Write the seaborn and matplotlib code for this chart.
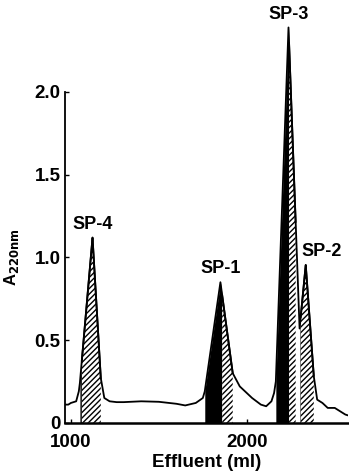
import numpy as np
import pandas as pd
import matplotlib
matplotlib.use('Agg')
import matplotlib.pyplot as plt
import seaborn as sns

# elution profile (ml, A220)
effluent = [966, 985, 1000, 1030, 1045, 1051, 1123, 1170, 1190, 1220, 1260, 1300,
            1400, 1500, 1600, 1650, 1710, 1750, 1761, 1850, 1920, 1960, 2030, 2080,
            2110, 2140, 2155, 2165, 2237, 2300, 2335, 2381, 2400, 2430, 2460, 2500,
            2530, 2560, 2575]
absorbance = [0.11, 0.11, 0.12, 0.13, 0.19, 0.24, 1.12, 0.27, 0.15, 0.13, 0.125, 0.125,
              0.13, 0.127, 0.115, 0.105, 0.12, 0.15, 0.19, 0.85, 0.30, 0.22, 0.15, 0.11,
              0.10, 0.13, 0.18, 0.25, 2.39, 0.57, 0.955, 0.28, 0.14, 0.12, 0.09, 0.09,
              0.07, 0.05, 0.045]

peak_names = ['SP-4', 'SP-1', 'SP-3', 'SP-2']
peak_top = [1123, 1850, 2237, 2335]
peak_height = [1.12, 0.85, 2.39, 0.955]
# pooled fractions: start, end of solid part, end
pool_start = [1051, 1761, 2165, 2301]
pool_dark_end = [1062, 1860, 2240, 2306]
pool_end = [1170, 1920, 2278, 2381]

df = pd.DataFrame({'Effluent': effluent, 'A220': absorbance})

plt.rcParams['font.family'] = ['Liberation Sans', 'DejaVu Sans']
plt.rcParams['font.weight'] = 'bold'
plt.rcParams['hatch.linewidth'] = 1.0

fig = plt.figure(figsize=(3.49, 4.74), dpi=100)
ax = fig.add_axes([0.186, 0.108, 0.811, 0.855])

sns.lineplot(data=df, x='Effluent', y='A220', color='black', linewidth=1.3, ax=ax,
             sort=False)

xs = np.linspace(966, 2575, 4000)
ys = np.interp(xs, effluent, absorbance)
for s, d, e in zip(pool_start, pool_dark_end, pool_end):
    m1 = (xs >= s) & (xs <= d)
    m2 = (xs >= d) & (xs <= e)
    ax.fill_between(xs[m1], 0, ys[m1], color='black', linewidth=0)
    ax.fill_between(xs[m2], 0, ys[m2], facecolor='white', edgecolor='black',
                    hatch='//////', linewidth=0)
    ax.plot(xs[m2], ys[m2], color='black', linewidth=1.3)

for name, x, h in zip(peak_names, peak_top, peak_height):
    dx = 90 if name == 'SP-2' else 0
    ax.text(x + dx, h + 0.03, name, ha='center', va='bottom', fontsize=13,
            fontweight='bold', clip_on=False)

ax.set_xlim(966, 2575)
ax.set_ylim(0, 2.45)
ax.set_xticks([1000, 2000])
ax.set_yticks([0, 0.5, 1.0, 1.5, 2.0])
ax.set_yticklabels(['0', '0.5', '1.0', '1.5', '2.0'])
ax.tick_params(direction='in', length=3, width=1, labelsize=13.5)
ax.tick_params(axis='x', pad=8)
ax.tick_params(axis='y', pad=3)
for lab in ax.get_xticklabels() + ax.get_yticklabels():
    lab.set_fontweight('bold')
ax.spines['top'].set_visible(False)
ax.spines['right'].set_visible(False)
ax.spines['left'].set_bounds(0, 2.0)
ax.spines['left'].set_linewidth(1.3)
ax.spines['bottom'].set_linewidth(1.8)
ax.set_xlabel('Effluent (ml)', fontsize=13.5, fontweight='bold', labelpad=2)
ax.set_ylabel('A$_{\\mathbf{220nm}}$', fontsize=12, fontweight='bold')
ax.yaxis.set_label_coords(-0.155, 0.41)

fig.savefig('out.png', dpi=100)
